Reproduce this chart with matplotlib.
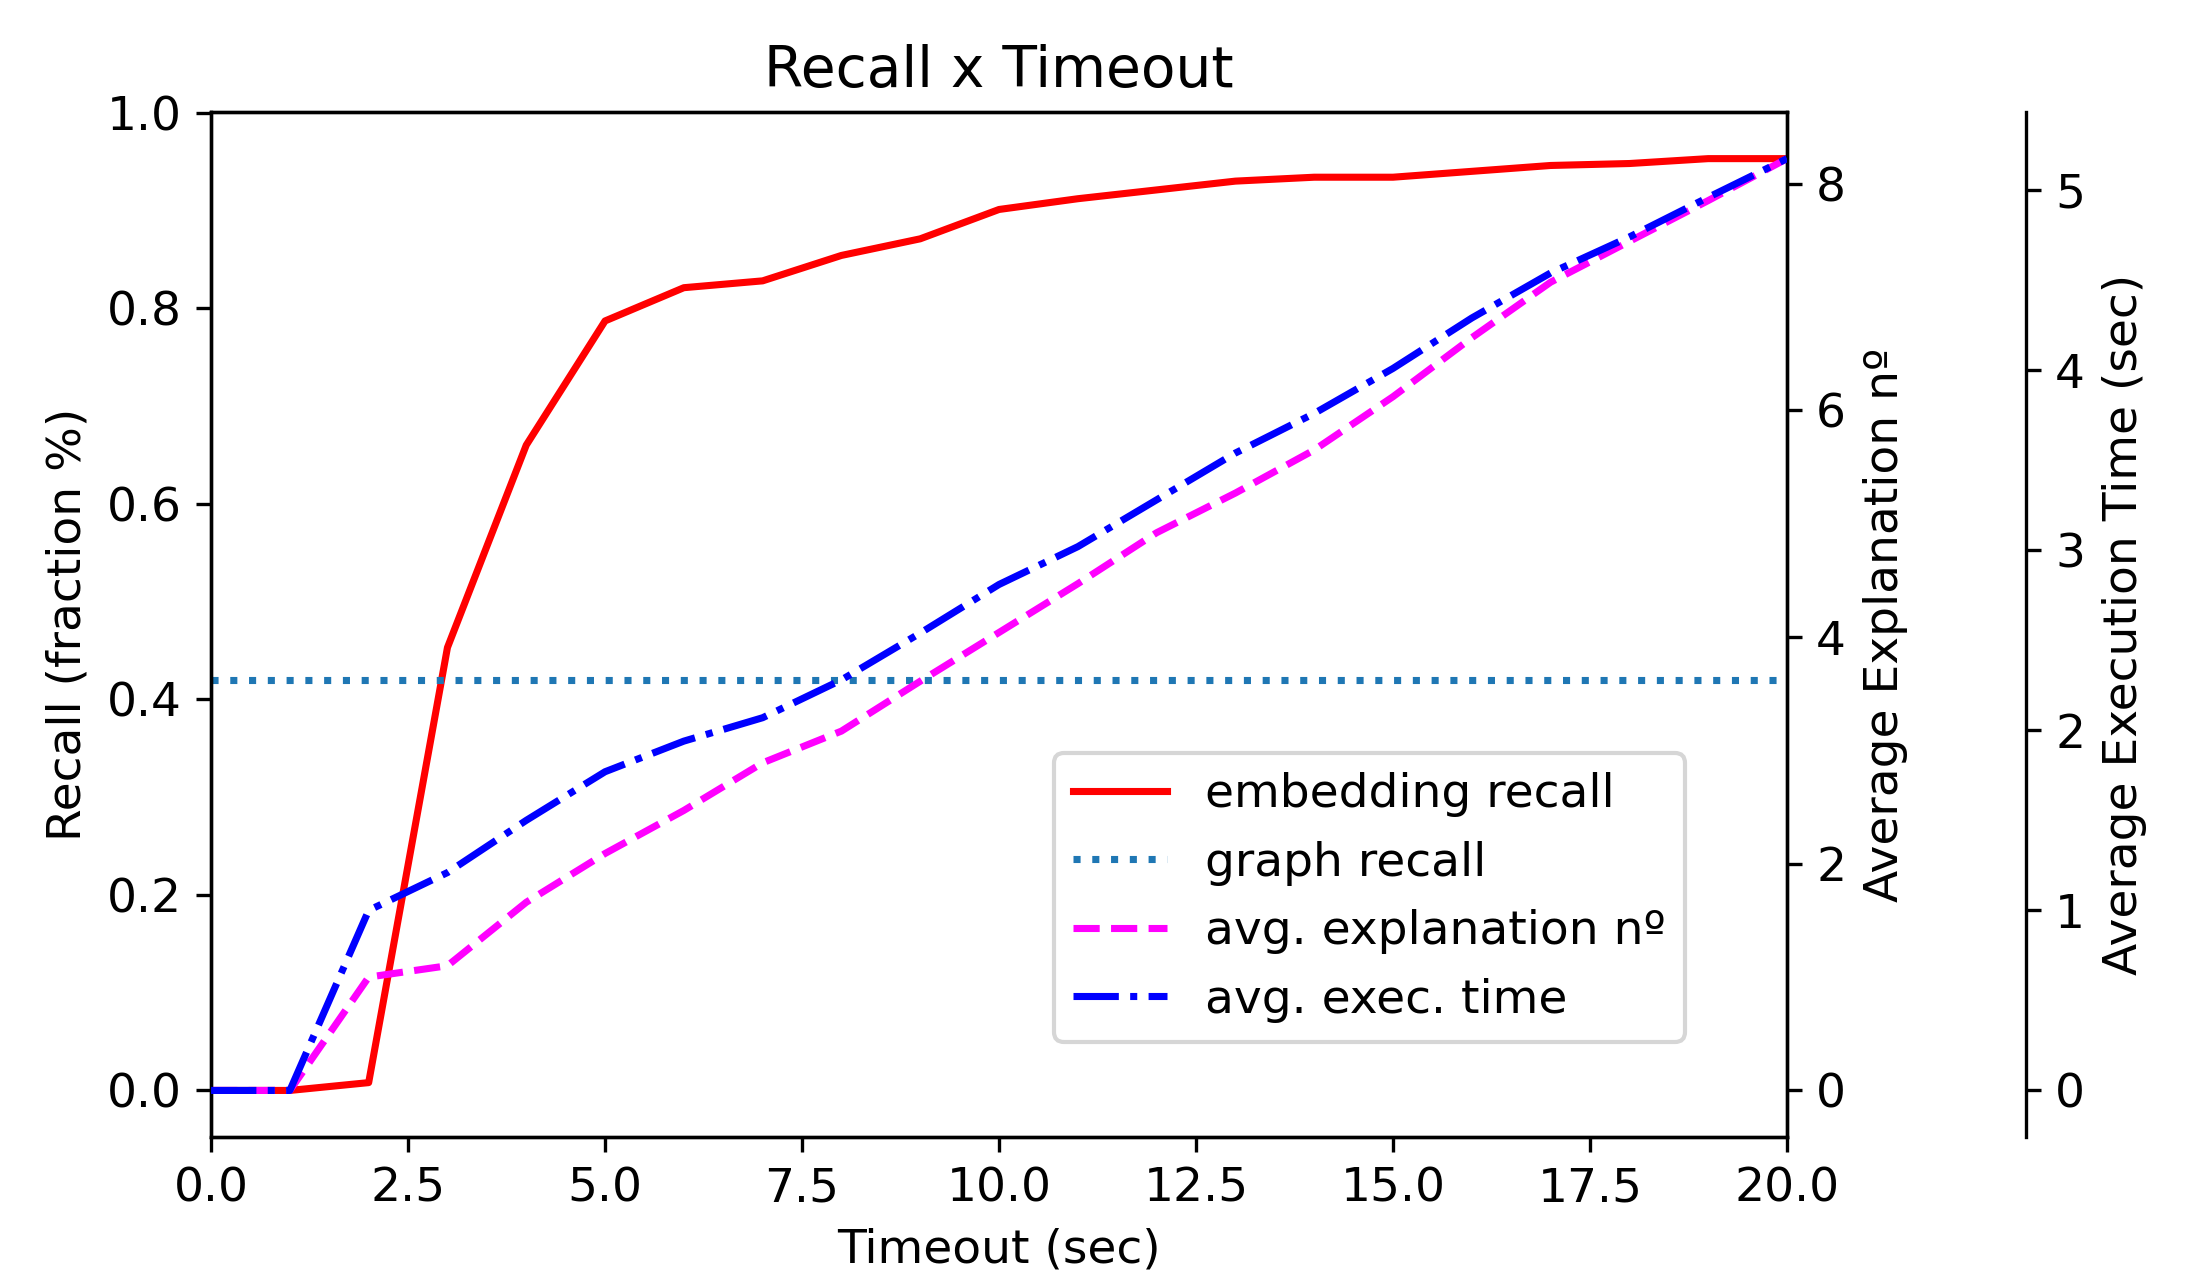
import matplotlib
matplotlib.use("Agg")
import matplotlib.pyplot as plt

# ---- data ----
timeout = [0, 1, 2, 3, 4, 5, 6, 7, 8, 9, 10, 11, 12, 13, 14, 15, 16, 17, 18, 19, 20]
embedding_recall = [0.0, 0.0, 0.008, 0.453, 0.660, 0.787, 0.821, 0.828, 0.854, 0.871,
                    0.901, 0.912, 0.921, 0.930, 0.934, 0.934, 0.940, 0.946, 0.948, 0.953, 0.953]
graph_recall_value = 0.42
avg_explanations = [0.0, 0.0, 1.00, 1.10, 1.66, 2.09, 2.47, 2.89, 3.17, 3.61,
                    4.04, 4.47, 4.92, 5.27, 5.65, 6.12, 6.64, 7.13, 7.49, 7.85, 8.22]
avg_exec_time = [0.0, 0.0, 1.00, 1.21, 1.50, 1.77, 1.94, 2.07, 2.28, 2.54,
                 2.81, 3.02, 3.28, 3.54, 3.76, 4.01, 4.29, 4.54, 4.74, 4.96, 5.175]
graph_recall = [graph_recall_value] * len(timeout)

title = "Recall x Timeout"
xlabel = "Timeout (sec)"
ylabel1 = "Recall (fraction %)"
ylabel2 = "Average Explanation nº"
ylabel3 = "Average Execution Time (sec)"
labels = ["embedding recall", "graph recall", "avg. explanation nº", "avg. exec. time"]
xticks = [0.0, 2.5, 5.0, 7.5, 10.0, 12.5, 15.0, 17.5, 20.0]

FS = 11.3
plt.rcParams["font.family"] = ["DejaVu Sans"]
plt.rcParams["font.size"] = FS

fig = plt.figure(figsize=(2201 / 300, 1279 / 300), dpi=300)
ax1 = fig.add_subplot(111)
fig.subplots_adjust(left=0.0959, right=0.8119, bottom=0.111, top=0.9124)
ax2 = ax1.twinx()
ax3 = ax1.twinx()
ax3.spines["right"].set_position(("axes", 1.1517))
for sp in ["top", "left", "bottom"]:
    ax3.spines[sp].set_visible(False)
ax3.patch.set_visible(False)

LW = 1.7
l1, = ax1.plot(timeout, embedding_recall, color="red", linestyle="-", lw=LW, label=labels[0])
l2, = ax1.plot(timeout, graph_recall, color="#1f77b4", linestyle=":", lw=LW, label=labels[1])
l3, = ax2.plot(timeout, avg_explanations, color="magenta", linestyle="--", lw=LW, label=labels[2])
l4, = ax3.plot(timeout, avg_exec_time, color="blue", linestyle="-.", lw=LW, label=labels[3])

ax1.set_xlim(0, 20)
ax1.set_xticks(xticks)
ax1.set_xticklabels([f"{t:.1f}" for t in xticks])
ax1.set_yticks([0.0, 0.2, 0.4, 0.6, 0.8, 1.0])
ax2.set_yticks([0, 2, 4, 6, 8])
ax3.set_yticks([0, 1, 2, 3, 4, 5])

ax1.set_title(title, fontsize=13.6)
ax1.set_xlabel(xlabel)
ax1.set_ylabel(ylabel1)
ax2.set_ylabel(ylabel2)
ax3.set_ylabel(ylabel3)

ax3.legend(handles=[l1, l2, l3, l4], loc="lower right",
           bbox_to_anchor=(0.935, 0.093), bbox_transform=ax1.transAxes,
           borderaxespad=0.0)

fig.savefig("out.png", dpi=300)
